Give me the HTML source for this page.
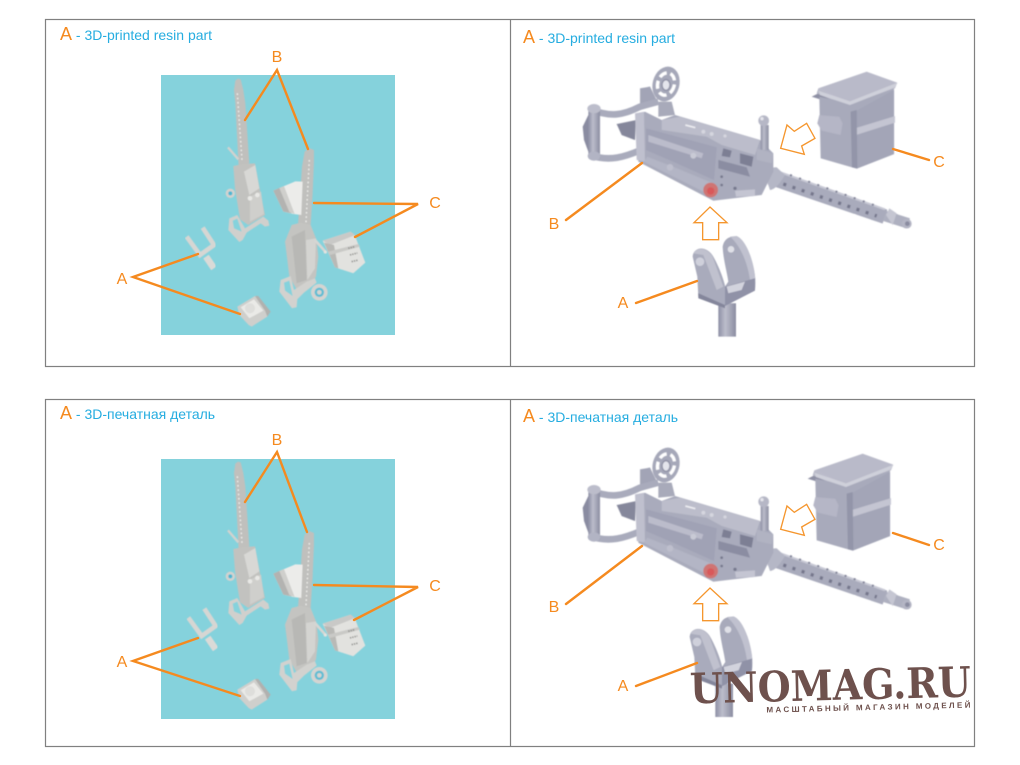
<!DOCTYPE html>
<html><head><meta charset="utf-8"><style>
html,body{margin:0;padding:0;background:#fff}
svg{display:block}
.o{stroke:#f58a1f;stroke-width:2.4;fill:none;stroke-linecap:round}
.lb{font-family:"Liberation Sans",sans-serif;font-size:16px;fill:#f58a1f;text-anchor:middle}
.t{font-family:"Liberation Sans",sans-serif;font-size:14px;fill:#26ade0}
.t tspan{fill:#f58a1f;font-size:18px}
</style></head><body>
<svg width="1020" height="765" viewBox="0 0 1020 765" xmlns="http://www.w3.org/2000/svg">
<defs>
<filter id="b" x="-5%" y="-5%" width="110%" height="110%"><feGaussianBlur stdDeviation="1.8"/></filter>
<linearGradient id="pin" x1="0" y1="0" x2="1" y2="0"><stop offset="0" stop-color="#8e90a5"/><stop offset=".4" stop-color="#bcbdcb"/><stop offset="1" stop-color="#8b8da1"/></linearGradient>

<!-- left figure: resin parts on cyan, 3x coords -->
<g id="lgun1" filter="url(#b)">
 <path d="M252 90L256 62L264 56L272 58L280 90L286 130L298 310L266 322L256 130Z" fill="#c0c0bd"/>
 <path d="M262 100L276 300" stroke="#ededea" stroke-width="4" stroke-dasharray="5 8" fill="none"/>
 <path d="M234 262L265 298" stroke="#d2d2cf" stroke-width="7" fill="none"/>
 <circle cx="241" cy="400" r="14" fill="#d2d2cf"/><circle cx="241" cy="400" r="6" fill="#4cb7d3"/>
 <path d="M250 318L280 312L315 310L335 415L345 465L295 495L270 478L255 385Z" fill="#c2c2bf"/>
 <path d="M282 335L316 315L328 385L298 405Z" fill="#d8d8d5"/>
 <path d="M300 410L333 395L342 462L300 485Z" fill="#cfcfcc"/>
 <circle cx="300" cy="415" r="7" fill="#e8e8e5"/><circle cx="322" cy="405" r="7" fill="#e8e8e5"/>
 <path d="M238 475L262 465L285 505L340 470L355 482L358 497L345 500L332 490L290 518L278 540L268 546L235 510Z" fill="#d0d0cd"/>
 <path d="M248 482L262 476L275 515L252 505Z" fill="#85d2dc"/>
</g>
<g id="lgun2" filter="url(#b)">
 <path d="M464 275L478 264L492 270L492 305L488 400L482 495L444 495L456 320Z" fill="#c0c0bd"/>
 <path d="M478 300L468 488" stroke="#ededea" stroke-width="4" stroke-dasharray="5 8" fill="none"/>
 <path d="M405 545L425 495L452 488L482 495L500 540L505 590L498 650L470 692L442 692L418 650L412 600Z" fill="#c4c4c1"/>
 <path d="M425 530L465 510L470 660L440 670Z" fill="#b8b8b5"/>
 <path d="M468 540L498 535L495 625L472 660Z" fill="#d4d4d1"/>
 <path d="M495 540L526 575" stroke="#d6d6d3" stroke-width="8" fill="none"/>
 <circle cx="526" cy="576" r="5" fill="#e2e2df"/>
 <path d="M392 660L422 648L432 690L470 665L495 655L500 668L462 698L442 718L440 742L426 745L388 695Z" fill="#d2d2cf"/>
 <path d="M402 668L418 662L428 708L405 692Z" fill="#85d2dc"/>
 <circle cx="508" cy="697" r="25" fill="#d4d4d1"/><circle cx="508" cy="697" r="14" fill="#5fbdd3"/><circle cx="508" cy="697" r="7" fill="#d4d4d1"/>
</g>
<g id="lbox1" filter="url(#b)">
 <path d="M370 392L436 364L458 365L454 465L430 462L400 455Z" fill="#ececea"/>
 <path d="M370 392L392 382L425 460L400 455Z" fill="#b3b3b1"/>
 <path d="M388 384L402 378L434 462L418 456Z" fill="#cfcfcc"/>
</g>
<g id="lbox2" filter="url(#b)">
 <path d="M518 542L602 515L616 530L646 608L610 640L555 622Z" fill="#e2e2df"/>
 <path d="M518 542L602 515L616 525L540 555Z" fill="#c9c9c7"/>
 <path d="M522 548L552 555L565 625L555 622Z" fill="#b9b9b6"/>
 <path d="M535 575L625 552L630 560L540 585Z" fill="#c9c9c6"/>
 <path d="M595 565l20-5M600 585l22-6M605 605l20-5" stroke="#8e8e8c" stroke-width="5" stroke-dasharray="4 3"/>
</g>
<g id="lfork" filter="url(#b)">
 <path d="M168 590L192 625" stroke="#dadad7" stroke-width="20" fill="none"/>
 <path d="M110 530L150 585L192 555L158 503" stroke="#d6d6d3" stroke-width="14" fill="none"/>
</g>
<g id="lplate" filter="url(#b)">
 <path d="M262 740L315 708L360 755L352 770L305 800L296 795L268 765Z" fill="#cfcfcc"/>
 <path d="M272 742L312 718L340 752L298 775Z" fill="#eaeae7"/>
 <circle cx="300" cy="745" r="15" fill="#dedeDb"/>
 <path d="M315 708L325 708L362 755L352 770L345 752Z" fill="#b1b1af"/>
</g>

<!-- right figure parts, 3x coords -->
<g id="rgun" filter="url(#b)">
 <!-- barrel -->
 <path d="M630 352L975 470" stroke="#a9abbc" stroke-width="44" fill="none"/>
 <path d="M975 468L1045 490" stroke="#aeb0c0" stroke-width="32" fill="none"/>
 <path d="M655 335L975 448" stroke="#c8c9d5" stroke-width="6" fill="none"/>
 <path d="M670 372L950 468" stroke="#74768b" stroke-width="10" stroke-dasharray="9 20" fill="none"/>
 <path d="M690 345L955 440" stroke="#7e8095" stroke-width="6" stroke-dasharray="6 23" fill="none"/>
 <path d="M978 465L988 445L1010 460L998 495Z" fill="#c5c6d2"/>
 <circle cx="1040" cy="491" r="15" fill="#b4b5c4"/><circle cx="1042" cy="491" r="7" fill="#8a8ca0"/>
 <path d="M615 345Q625 320 650 322L675 345Q650 388 630 390Z" fill="#b5b7c6"/>
 <!-- rear pieces -->
 <path d="M240 85L270 80L295 130L240 150Z" fill="#a2a4b6"/>
 <path d="M170 192L228 180L225 240L185 225Z" fill="#85879b"/>
 <!-- wheel -->
 <path d="M295 125L335 125L345 165L295 170Z" fill="#a8aaba"/>
 <ellipse cx="318" cy="72" rx="40" ry="53" transform="rotate(15 318 72)" fill="#a6a8b9"/>
 <ellipse cx="318" cy="72" rx="25" ry="34" transform="rotate(15 318 72)" fill="none" stroke="#fff" stroke-width="10" stroke-dasharray="24 12"/>
 <ellipse cx="318" cy="75" rx="12" ry="16" fill="#e4e5ec" stroke="#8f91a5" stroke-width="4"/>
 <!-- handle frame -->
 <path d="M95 150C150 170 185 168 240 140L295 125" stroke="#a9abbc" stroke-width="20" fill="none"/>
 <path d="M95 287C150 305 195 290 238 272" stroke="#a9abbc" stroke-width="20" fill="none"/>
 <path d="M85 145H120V295H85Z" fill="url(#pin)"/>
 <path d="M68 200L85 165V275L72 240Z" fill="#8a8ca1"/>
 <ellipse cx="102" cy="146" rx="20" ry="14" fill="#bcbdcb"/>
 <ellipse cx="102" cy="288" rx="19" ry="14" fill="#b2b4c4"/>
 <!-- body -->
 <path d="M228 165L255 155L305 180L345 165L600 240L640 280L640 335L605 405L460 422L235 305Z" fill="#a9abbc"/>
 <path d="M305 180L360 170L600 240L585 285L485 255L440 230L305 210Z" fill="#bcbdcb"/>
 <path d="M225 160L252 155L255 305L230 300Z" fill="#bfc0ce"/>
 <path d="M258 205L470 262L462 360L340 305L258 270Z" fill="#a0a2b5"/>
 <path d="M265 225L430 280L425 295L265 245Z" fill="#bbbccb"/>
 <path d="M262 290L340 320L460 370L450 405L250 305Z" fill="#b3b5c5"/>
 <path d="M475 300L560 322L570 350L475 325Z" fill="#8b8da2"/>
 <path d="M490 265L515 272L510 292L485 288ZM540 280L580 290L575 320L540 310Z" fill="#7d7f94"/>
 <path d="M525 392L585 388L585 408L528 410Z" fill="#c4c5d2"/>
 <circle cx="400" cy="287" r="9" fill="#c9cad5"/><circle cx="330" cy="322" r="10" fill="#bebfcd"/>
 <circle cx="485" cy="350" r="4" fill="#76788d"/><circle cx="485" cy="375" r="4" fill="#76788d"/><circle cx="525" cy="385" r="5" fill="#76788d"/>
 <circle cx="430" cy="215" r="6" fill="#d5d6df"/><circle cx="455" cy="222" r="6" fill="#d5d6df"/><circle cx="495" cy="228" r="5" fill="#d5d6df"/>
 <path d="M376 195l30 8" stroke="#eeeef2" stroke-width="5"/>
 <!-- charging handle -->
 <path d="M602 195H626V270H602Z" fill="url(#pin)"/>
 <circle cx="611" cy="182" r="16" fill="#b6b7c6"/><circle cx="606" cy="176" r="5" fill="#e6e6ec"/>
 <path d="M590 265L640 280L635 310L590 300Z" fill="#b1b3c2"/>
 <!-- red knob -->
 <circle cx="452" cy="390" r="22" fill="#cf7573"/><circle cx="452" cy="393" r="11" fill="#d9595a"/>
</g>
<g id="rbox" filter="url(#b)">
 <path d="M755 110L775 100L850 125L835 135Z" fill="#8e90a4"/>
 <path d="M775 85L840 115L830 125L770 100Z" fill="#b8b9c8"/>
 <path d="M778 110L875 130L1002 85L1002 282L890 326L782 295Z" fill="#a8aabb"/>
 <path d="M885 155L1002 90L1002 282L890 326Z" fill="#a3a5b7"/>
 <path d="M775 85L920 35L1012 68L1005 85L870 130Z" fill="#b9bac9"/>
 <path d="M775 92L870 124L1012 68L1005 82L870 135L780 105Z" fill="#cfd0da"/>
 <path d="M885 205L1005 168L1005 188L888 225Z" fill="#c4c5d2"/>
 <path d="M778 165L838 170L848 190L842 225L785 212L772 190Z" fill="#b5b6c6"/>
 <path d="M872 155L890 150L892 325L876 322Z" fill="#9395a9"/>
</g>
<g id="rfork" filter="url(#b)">
 <path d="M475 730H528V830H475Z" fill="url(#pin)"/>
 <path d="M488 560C495 520 540 520 560 565C580 610 590 650 585 690L495 738L495 680L505 665C500 630 490 600 488 560Z" fill="#a8aabb"/>
 <path d="M530 528C560 540 585 610 587 670L572 680C568 620 545 560 510 530Z" fill="#c0c1cf"/>
 <path d="M398 590C400 560 440 555 460 590C480 625 495 670 498 690L495 738L415 710L412 650Z" fill="#a9abbc"/>
 <path d="M400 580C410 562 440 560 458 590L490 680L470 690L430 585Z" fill="#c0c1ce"/>
 <circle cx="420" cy="605" r="13" fill="#cfd0db"/><circle cx="513" cy="568" r="10" fill="#dfe0e7"/>
 <path d="M495 680L585 655L585 692L495 738Z" fill="#9092a7"/>
 <path d="M500 680L555 665L545 690L505 700Z" fill="#d2d3dd"/>
 <path d="M415 700L495 735V745L415 715Z" fill="#84869b"/>
</g>
<path id="aup" d="M450 441L501 488H476V539H428V488H402Z" fill="#fff" stroke="#f5962e" stroke-width="4"/>
<path id="aleft" d="M662 265L681 195L703 214L740 190L765 235L725 258L733 283Z" fill="#fff" stroke="#f5962e" stroke-width="4"/>
</defs>

<rect width="1020" height="765" fill="#fff"/>
<g fill="none" stroke="#808080" stroke-width="1.2">
 <rect x="45.5" y="19.5" width="929" height="347"/><line x1="510.5" y1="19.5" x2="510.5" y2="366.5"/>
 <rect x="45.5" y="399.5" width="929" height="347"/><line x1="510.5" y1="399.5" x2="510.5" y2="746.5"/>
</g>

<!-- Top left -->
<rect x="161" y="75" width="234" height="260" fill="#85d2dc"/>
<g transform="translate(150 60) scale(.3333)"><use href="#lgun1"/><use href="#lgun2"/><use href="#lbox1"/><use href="#lbox2"/><use href="#lfork"/><use href="#lplate"/></g>
<path class="o" d="M245 120L277 70L308 149M314 203L418 204L355 237M198 254L133 277L240 314"/>
<text class="t" x="60" y="40"><tspan>A</tspan> - 3D-printed resin part</text>
<text class="lb" x="122" y="284">A</text><text class="lb" x="277" y="62">B</text><text class="lb" x="435" y="208">C</text>

<!-- Bottom left -->
<rect x="161" y="459" width="234" height="260" fill="#85d2dc"/>
<g transform="translate(150 443) scale(.3333)"><use href="#lgun1"/><use href="#lgun2"/><use href="#lbox1"/><use href="#lbox2"/><use href="#lfork" transform="translate(5 -6)"/><use href="#lplate"/></g>
<path class="o" d="M245 502L277 452L307 532M314 585L418 587L354 620M198 638L133 661L240 696"/>
<text class="t" x="60" y="419"><tspan>A</tspan> - 3D-печатная деталь</text>
<text class="lb" x="122" y="667">A</text><text class="lb" x="277" y="445">B</text><text class="lb" x="435" y="591">C</text>

<!-- Top right -->
<g transform="translate(560 60) scale(.3333)"><use href="#rgun"/><use href="#rbox"/><use href="#rfork"/><use href="#aup"/><use href="#aleft"/></g>
<path class="o" d="M566 220L642 163M893 149L929 160M636 303L697 281"/>
<text class="t" x="523" y="43"><tspan>A</tspan> - 3D-printed resin part</text>
<text class="lb" x="623" y="308">A</text><text class="lb" x="554" y="229">B</text><text class="lb" x="939" y="167">C</text>

<!-- Bottom right -->
<g transform="translate(560 441) scale(.3333)"><use href="#rgun"/><use href="#rbox" transform="translate(-12 3)"/><use href="#rfork" transform="translate(-9 -2)"/><use href="#aup"/><use href="#aleft"/></g>
<path class="o" d="M566 604L642 546M893 533L929 545M636 686L697 663"/>
<text class="t" x="523" y="422"><tspan>A</tspan> - 3D-печатная деталь</text>
<text class="lb" x="623" y="691">A</text><text class="lb" x="554" y="612">B</text><text class="lb" x="939" y="550">C</text>

<!-- Watermark -->
<g transform="rotate(-1.4 830 690)" fill="#6e514d">
<text x="690" y="700" font-family="'DejaVu Serif','Liberation Serif',serif" font-weight="bold" font-size="42" textLength="281" lengthAdjust="spacingAndGlyphs">UNOMAG.RU</text>
<text x="766" y="711" font-family="'Liberation Sans',sans-serif" font-weight="bold" font-size="8" textLength="204">МАСШТАБНЫЙ МАГАЗИН МОДЕЛЕЙ</text>
</g>
</svg>
</body></html>
